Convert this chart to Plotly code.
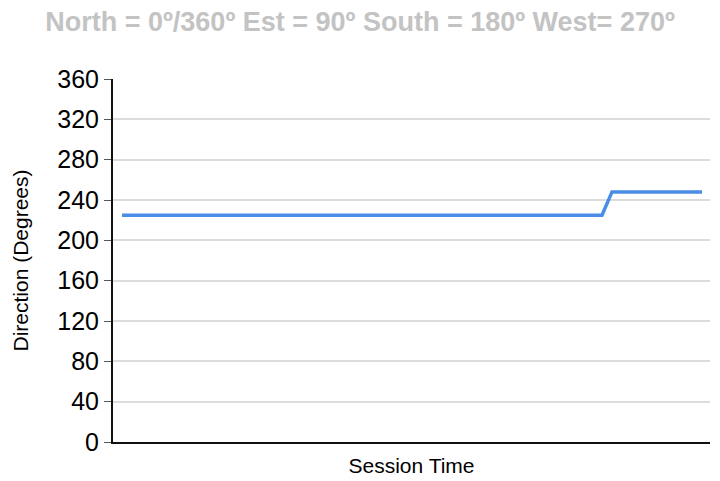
import plotly.graph_objects as go

session_index = list(range(59))
direction_deg = [225] * 49 + [248] * 10
y_ticks = [0, 40, 80, 120, 160, 200, 240, 280, 320, 360]

fig = go.Figure()
fig.add_trace(go.Scatter(
    x=session_index, y=direction_deg, mode="lines",
    line=dict(color="#4a8de6", width=3.5), hoverinfo="skip"
))

fig.update_layout(
    width=720, height=481,
    margin=dict(l=113, r=10, t=79, b=39),
    paper_bgcolor="white", plot_bgcolor="white",
    showlegend=False,
    font=dict(family="Liberation Sans, Arial, sans-serif", color="black"),
    title=dict(
        text="<b>North = 0º/360º Est = 90º South = 180º West= 270º</b>",
        x=0.5, xanchor="center", y=0.956, yanchor="middle",
        font=dict(size=27, color="#c3c3c3", family="Liberation Sans, Arial, sans-serif"),
    ),
    xaxis=dict(
        range=[-0.9, 58.8], showgrid=False, zeroline=False,
        showticklabels=False, ticks="", automargin=False,
        showline=True, linecolor="#111111", linewidth=2,
        title=dict(text="Session Time", font=dict(size=21), standoff=15),
    ),
    yaxis=dict(
        range=[0, 360], tickvals=y_ticks, ticktext=[str(v) for v in y_ticks],
        showgrid=True, gridcolor="#dcdcdc", gridwidth=2, zeroline=False,
        showline=True, linecolor="#111111", linewidth=2, automargin=False,
        ticks="outside", ticklen=7, tickcolor="#555555", tickwidth=1,
        tickfont=dict(size=25),
        title=dict(text="Direction (Degrees)", font=dict(size=21), standoff=23),
    ),
)

fig.write_html("out.html", config={"displayModeBar": False},
               post_script="document.body.style.margin='0';")
